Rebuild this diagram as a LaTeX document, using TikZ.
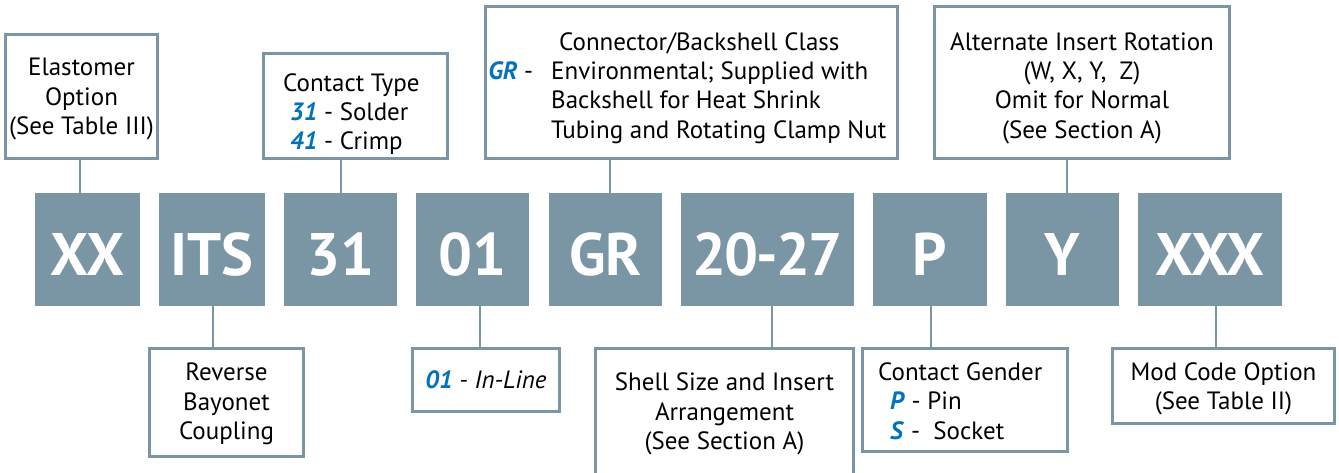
\documentclass[tikz,border=0pt]{standalone}
\usepackage{fontspec}
\setmainfont{PT Sans}
\definecolor{slate}{RGB}{122,150,164}
\definecolor{codeblue}{RGB}{0,114,190}
\newcommand\bluecode[1]{\textcolor{codeblue}{\textbf{\textit{#1}}}}
\begin{document}
\begin{tikzpicture}[x=1pt,y=-1pt,
  code/.style={fill=slate, text=white, inner sep=0pt, outer sep=0pt,
    minimum height=113pt, text height=51pt, text depth=0pt,
    font=\fontsize{60}{60}\selectfont\bfseries},
  desc/.style={draw=slate, line width=2.8pt, fill=white, inner sep=0pt, outer sep=0pt},
  lbl/.style={inner sep=0pt, font=\fontsize{25}{29.3}\selectfont, align=center},
  link/.style={draw=slate, line width=2.8pt}]
\useasboundingbox (0,0) rectangle (1339,472);
\clip (0,0) rectangle (1339,472);
% code boxes
\node[code, minimum width=105pt] (cXX)  at (87.5,249.5)  {XX};
\node[code, minimum width=106pt] (cITS) at (212,249.5)   {ITS};
\node[code, minimum width=113pt] (c31)  at (340.5,249.5) {31};
\node[code, minimum width=113pt] (c01)  at (472.5,249.5) {01};
\node[code, minimum width=113pt] (cGR)  at (605.5,249.5) {GR};
\node[code, minimum width=173pt] (cSZ)  at (767.5,249.5) {\addfontfeature{LetterSpace=-3}20-27};
\node[code, minimum width=114pt] (cP)   at (930,249.5)   {P};
\node[code, minimum width=113pt] (cY)   at (1062.5,249.5){Y};
\node[code, minimum width=144pt] (cXXX) at (1210,249.5)  {XXX};
% description boxes
\node[desc, minimum width=152pt, minimum height=124pt] (tE)   at (81.5,96.5) {};
\node[desc, minimum width=184pt, minimum height=105pt] (tCT)  at (355.5,106) {};
\node[desc, minimum width=412pt, minimum height=152pt] (tGR)  at (691.5,82.5) {};
\node[desc, minimum width=295pt, minimum height=152pt] (tAlt) at (1082,82.5) {};
\node[desc, minimum width=154pt, minimum height=108pt] (tRev) at (226.5,402.5) {};
\node[desc, minimum width=147pt, minimum height=63pt]  (tIL)  at (486,380) {};
\node[desc, minimum width=258pt, minimum height=150pt] (tSh)  at (724.5,423.4) {};
\node[desc, minimum width=205pt, minimum height=103pt] (tCG)  at (965,400) {};
\node[desc, minimum width=222pt, minimum height=75pt]  (tMC)  at (1223.5,386) {};
% texts
\node[lbl] (xE) at (81.5,99) {Elastomer\\Option\\(See Table III)};
\node[lbl, anchor=west, align=left] (xCT) at (283,114)
  {Contact Type\\\hspace*{7pt}\bluecode{31} - Solder\\\hspace*{7pt}\bluecode{41} - Crimp};
\node[lbl, anchor=west, align=left] (xGR) at (551,88)
  {\hspace*{8pt}Connector/Backshell Class\\\llap{\bluecode{GR} -\hspace*{18pt}}Environmental; Supplied with\\Backshell for Heat Shrink\\Tubing and Rotating Clamp Nut};
\node[lbl] (xAlt) at (1082,88) {Alternate Insert Rotation\\(W, X, Y,\ \ Z)\\Omit for Normal\\(See Section A)};
\node[lbl] (xRev) at (226.5,404) {Reverse\\Bayonet\\Coupling};
\node[lbl] (xIL) at (486,380) {\bluecode{01} \textit{- In-Line}};
\node[lbl] (xSh) at (724.5,414) {Shell Size and Insert\\Arrangement\\(See Section A)};
\node[lbl, anchor=west, align=left] (xCG) at (878,401)
  {Contact Gender\\\hspace*{12pt}\bluecode{P} - Pin\\\hspace*{12pt}\bluecode{S} -\ \ Socket};
\node[lbl] (xMC) at (1223.5,388.5) {Mod Code Option\\(See Table II)};
% connectors
\draw[link] ([xshift=-7.5pt]cXX.north) -- ([xshift=-7.5pt]cXX.north |- tE.south);
\draw[link] ([xshift=0.5pt]c31.north) -- ([xshift=0.5pt]c31.north |- tCT.south);
\draw[link] ([xshift=4.5pt]cGR.north) -- ([xshift=4.5pt]cGR.north |- tGR.south);
\draw[link] ([xshift=4.5pt]cY.north) -- ([xshift=4.5pt]cY.north |- tAlt.south);
\draw[link] ([xshift=1pt]cITS.south) -- ([xshift=1pt]cITS.south |- tRev.north);
\draw[link] ([xshift=7.5pt]c01.south) -- ([xshift=7.5pt]c01.south |- tIL.north);
\draw[link] ([xshift=4.5pt]cSZ.south) -- ([xshift=4.5pt]cSZ.south |- tSh.north);
\draw[link] ([xshift=1pt]cP.south) -- ([xshift=1pt]cP.south |- tCG.north);
\draw[link] ([xshift=6pt]cXXX.south) -- ([xshift=6pt]cXXX.south |- tMC.north);
\end{tikzpicture}
\end{document}
